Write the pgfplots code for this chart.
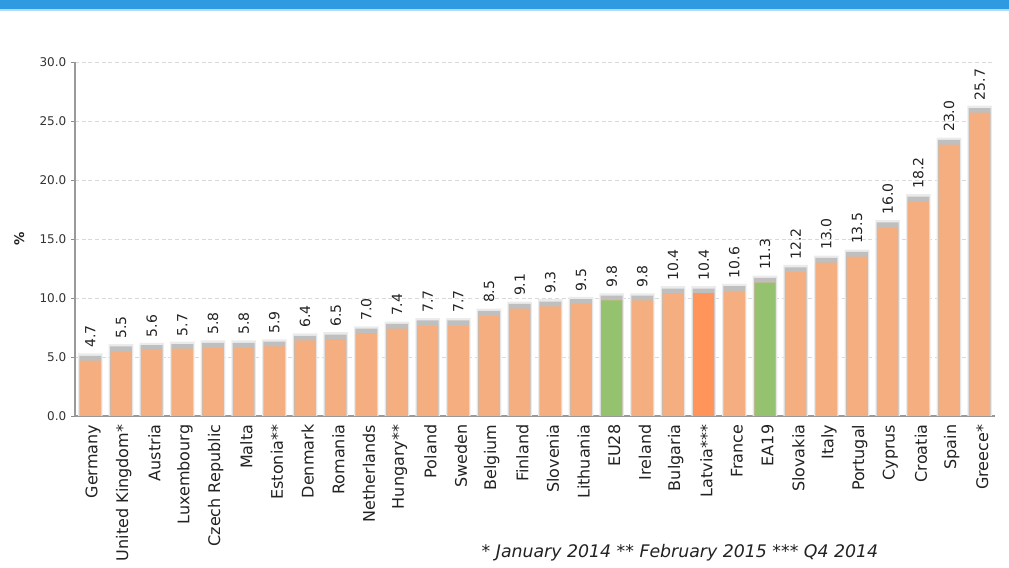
\documentclass[border=0pt]{standalone}
\usepackage{fontspec}
\setmainfont{DejaVu Sans}
\usepackage{pgfplots}
\usepackage{pgfplotstable}
\pgfplotsset{compat=1.18}

\definecolor{peach}{HTML}{F4AE7F}
\definecolor{eugreen}{HTML}{94C26F}
\definecolor{latvia}{HTML}{FF955A}
\definecolor{band}{HTML}{2E9AE1}
\definecolor{bandlight}{HTML}{B5DAF4}
\definecolor{txt}{HTML}{222222}
\definecolor{ticktxt}{HTML}{333333}

% unemployment rate, %
\pgfplotstableread{
x v
0 4.7
1 5.5
2 5.6
3 5.7
4 5.8
5 5.8
6 5.9
7 6.4
8 6.5
9 7.0
10 7.4
11 7.7
12 7.7
13 8.5
14 9.1
15 9.3
16 9.5
17 9.8
18 9.8
19 10.4
20 10.4
21 10.6
22 11.3
23 12.2
24 13.0
25 13.5
26 16.0
27 18.2
28 23.0
29 25.7
}\alldata

\pgfplotstableread{
x v
17 9.8
22 11.3
}\aggdata

\pgfplotstableread{
x v
20 10.4
}\latdata

\begin{document}
\begin{tikzpicture}[x=1pt,y=1pt]
\useasboundingbox (0,0) rectangle (756.75,425.25);
\fill[band] (0,418.5) rectangle (756.75,425.25);
\fill[bandlight] (0,417) rectangle (756.75,418.5);

\begin{axis}[
    at={(56.25pt,113.25pt)}, anchor=south west,
    scale only axis,
    width=690pt, height=265.5pt,
    ybar, bar shift=0pt, bar width=0.68,
    xmin=-0.5, xmax=29.5,
    ymin=0, ymax=30,
    ytick={0,5,10,15,20,25,30},
    yticklabel style={/pgf/number format/fixed, /pgf/number format/fixed zerofill,
        /pgf/number format/precision=1, /pgf/number format/assume math mode=true,
        font=\fontsize{9}{10}\selectfont, text=ticktxt},
    xtick=data,
    xticklabels={Germany, United Kingdom*, Austria, Luxembourg, Czech Republic, Malta, Estonia**, Denmark, Romania, Netherlands, Hungary**, Poland, Sweden, Belgium, Finland, Slovenia, Lithuania, EU28, Ireland, Bulgaria, Latvia***, France, EA19, Slovakia, Italy, Portugal, Cyprus, Croatia, Spain, Greece*},
    xticklabel style={rotate=90, anchor=east, font=\fontsize{12}{14}\selectfont, text=txt, yshift=-2pt},
    x tick style={draw=none},
    y tick style={draw=black!45},
    tick align=outside,
    major tick length=3pt,
    axis x line*=bottom, axis y line*=left,
    axis line style={draw=black!40, line width=0.8pt, -},
    ymajorgrids,
    grid style={densely dashed, draw=black!15},
    ylabel={\%},
    ylabel style={at={(axis description cs:-0.05,0.5)}, font=\fontsize{10}{12}\selectfont\bfseries, text=txt},
]
% soft grey caps behind the bars
\addplot[fill=black!8, draw=none, bar width=0.80]
    table[x=x, y expr=\thisrow{v}+0.6] {\alldata};
\addplot[fill=black!25, draw=none, bar width=0.72]
    table[x=x, y expr=\thisrow{v}+0.4] {\alldata};
\addplot[fill=peach, draw=none,
    nodes near coords={\pgfmathprintnumber[fixed, fixed zerofill, precision=1, assume math mode=true]{\pgfplotspointmeta}},
    every node near coord/.append style={rotate=90, anchor=west, xshift=6pt,
        font=\fontsize{10.5}{12}\selectfont, text=txt}]
    table[x=x, y=v] {\alldata};
\addplot[fill=eugreen, draw=none] table[x=x, y=v] {\aggdata};
\addplot[fill=latvia, draw=none] table[x=x, y=v] {\latdata};
\end{axis}

\node[font=\fontsize{13}{15}\selectfont\itshape, text=txt] at (510,10.5)
    {* January 2014 ** February 2015 *** Q4 2014};
\end{tikzpicture}
\end{document}
